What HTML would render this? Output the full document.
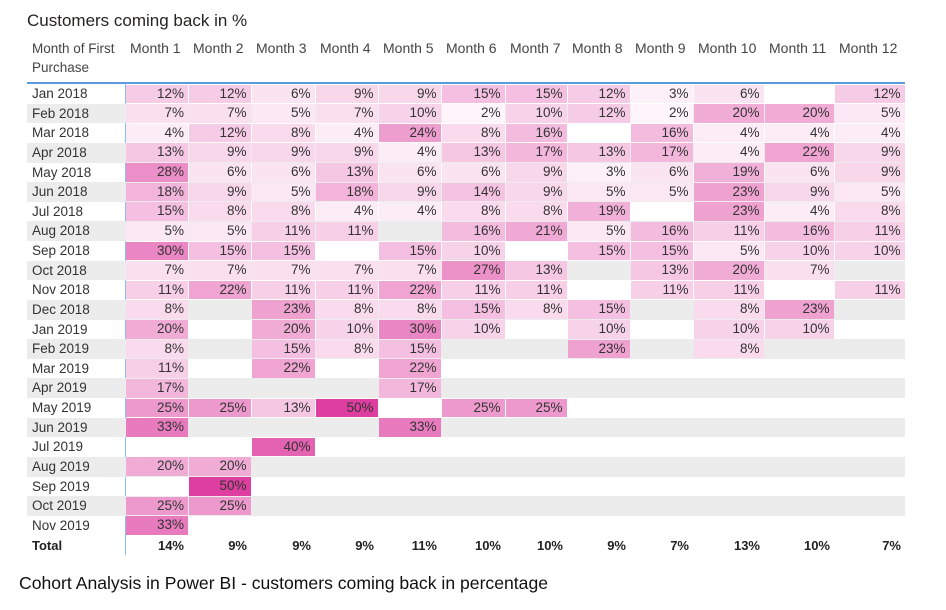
<!DOCTYPE html>
<html><head><meta charset="utf-8"><style>
body{margin:0;width:946px;height:610px;background:#fff;font-family:"Liberation Sans",sans-serif;position:relative;overflow:hidden}
.a{position:absolute;white-space:nowrap}
.t{font-size:13px;color:#333}
</style></head><body>
<div class="a" style="left:27px;top:11px;font-size:17px;color:#252423">Customers coming back in %</div>
<div id="tbl"></div>
<div class="a" style="left:19px;top:573px;font-size:17.6px;color:#111">Cohort Analysis in Power BI - customers coming back in percentage</div>
<script>
const months=["Month 1","Month 2","Month 3","Month 4","Month 5","Month 6","Month 7","Month 8","Month 9","Month 10","Month 11","Month 12"];
const cohorts=["Jan 2018","Feb 2018","Mar 2018","Apr 2018","May 2018","Jun 2018","Jul 2018","Aug 2018","Sep 2018","Oct 2018","Nov 2018","Dec 2018","Jan 2019","Feb 2019","Mar 2019","Apr 2019","May 2019","Jun 2019","Jul 2019","Aug 2019","Sep 2019","Oct 2019","Nov 2019"];
const N=null;
const values=[
[12,12,6,9,9,15,15,12,3,6,N,12],
[7,7,5,7,10,2,10,12,2,20,20,5],
[4,12,8,4,24,8,16,N,16,4,4,4],
[13,9,9,9,4,13,17,13,17,4,22,9],
[28,6,6,13,6,6,9,3,6,19,6,9],
[18,9,5,18,9,14,9,5,5,23,9,5],
[15,8,8,4,4,8,8,19,N,23,4,8],
[5,5,11,11,N,16,21,5,16,11,16,11],
[30,15,15,N,15,10,N,15,15,5,10,10],
[7,7,7,7,7,27,13,N,13,20,7,N],
[11,22,11,11,22,11,11,N,11,11,N,11],
[8,N,23,8,8,15,8,15,N,8,23,N],
[20,N,20,10,30,10,N,10,N,10,10,N],
[8,N,15,8,15,N,N,23,N,8,N,N],
[11,N,22,N,22],
[17,N,N,N,17],
[25,25,13,50,N,25,25],
[33,N,N,N,33],
[N,N,40],
[20,20],
[N,50],
[25,25],
[33]];
const totals=[14,9,9,9,11,10,10,9,7,13,10,7];

const edges=[125,188,251,315,378,441,505,567,630,693,764,834,905];
const top0=84,rh=19.63,left0=27;
const T=document.getElementById('tbl');
function mk(cls,style,txt){const d=document.createElement('div');d.className='a '+cls;d.style.cssText=style;if(txt!=null)d.textContent=txt;T.appendChild(d);return d;}
function col(v){const t=Math.pow(Math.min(v,50)/50,0.92);const r=Math.round(255-t*(255-222)),g=Math.round(255-t*(255-62)),b=Math.round(255-t*(255-160));return `rgb(${r},${g},${b})`;}
let h=mk('t','left:32px;top:39px;line-height:19px;color:#444;font-size:13.5px','Month of First');


h.innerHTML='Month of First<br>Purchase';
months.forEach((m,j)=>{const e=mk('t',`left:${edges[j]+5}px;top:39px;line-height:19px;color:#444;font-size:14px`,m);

});
let ln=mk('',`left:${left0}px;top:82px;width:${905-left0}px;height:2px;background:#5a9be0`);


let vl=mk('',`left:125px;top:84px;width:1px;height:${rh*24}px;background:#8ebdf0`);


cohorts.forEach((c,i)=>{const y=top0+i*rh;
 if(i%2==1){const g=mk('',`left:${left0}px;top:${y}px;width:${905-left0}px;height:${rh}px;background:#ececec`);
 
 }
 const l=mk('t',`left:32px;top:${y}px;line-height:${rh}px;font-size:13.5px`,c);
 
 
 const row=values[i];
 for(let j=0;j<12;j++){const v=row[j];if(v==null||v===undefined)continue;
  const x=edges[j]+(j==0?1:0.5),w=edges[j+1]-edges[j]-1;
  const cell=mk('t',`left:${x}px;top:${y+0.5}px;width:${w}px;height:${rh-1}px;line-height:${rh-1}px;background:${col(v)};text-align:right;box-sizing:border-box;padding-right:4px;font-size:13.5px`,v+'%');
  
  }
});
const ty=top0+23*rh;
const tl=mk('t',`left:32px;top:${ty+1}px;line-height:${rh}px;font-weight:bold;color:#222`,'Total');


totals.forEach((v,j)=>{const e=mk('t',`left:${edges[j]}px;top:${ty+1}px;width:${edges[j+1]-edges[j]}px;line-height:${rh}px;text-align:right;box-sizing:border-box;padding-right:4px;font-weight:bold;color:#222`,v+'%');

});
</script>
</body></html>
